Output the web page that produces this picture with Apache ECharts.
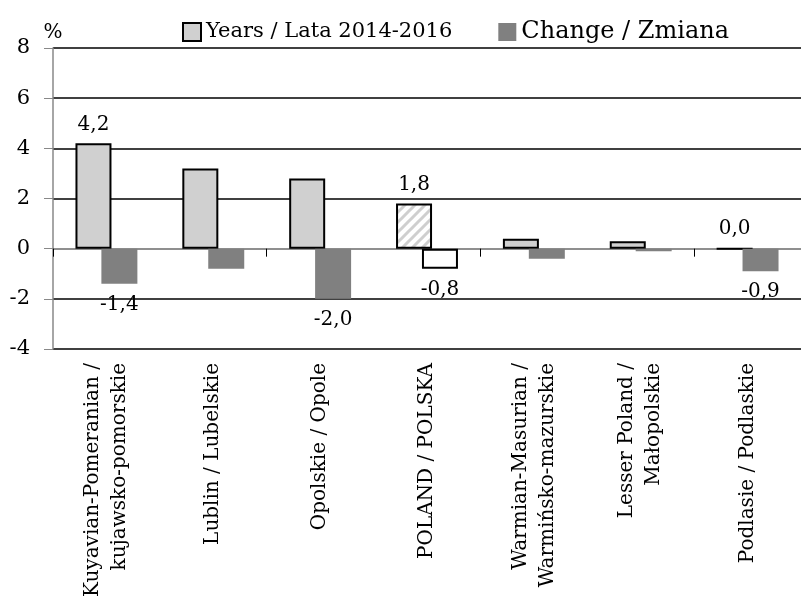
<!DOCTYPE html>
<html>
<head>
<meta charset="utf-8">
<script src="https://cdn.jsdelivr.net/npm/echarts@6/dist/echarts.min.js"></script>
<style>
  html, body { margin: 0; padding: 0; background: #fff; }
  #chart { width: 801px; height: 606px; }
</style>
</head>
<body>
<div id="chart"></div>
<script>
// dane wykresu
const categories = [
    'Kuyavian-Pomeranian /\nkujawsko-pomorskie',
    'Lublin / Lubelskie',
    'Opolskie / Opole',
    'POLAND / POLSKA',
    'Warmian-Masurian /\nWarmińsko-mazurskie',
    'Lesser Poland /\nMałopolskie',
    'Podlasie / Podlaskie'
];
const yearsValues = [4.2, 3.2, 2.8, 1.8, 0.4, 0.3, 0.0];
const changeValues = [-1.4, -0.8, -2.0, -0.8, -0.4, -0.1, -0.9];
const yearsLabelled = [0, 3, 6];
const changeLabelled = [0, 2, 3, 6];
const yTicks = [-4, -2, 0, 2, 4, 6, 8];
const seriesNames = ['Years / Lata 2014-2016', 'Change / Zmiana'];
const polandIndex = 3;

const FONT = 'DejaVu Serif';

// wzór ukośnych pasków dla słupka POLSKA
function makeHatch() {
    const c = document.createElement('canvas');
    c.width = 10; c.height = 10;
    const ctx = c.getContext('2d');
    ctx.fillStyle = '#fff';
    ctx.fillRect(0, 0, 10, 10);
    ctx.strokeStyle = '#cfcfcf';
    ctx.lineWidth = 3;
    ctx.beginPath();
    ctx.moveTo(-2, 12); ctx.lineTo(12, -2);
    ctx.moveTo(-2, 2); ctx.lineTo(2, -2);
    ctx.moveTo(8, 12); ctx.lineTo(12, 8);
    ctx.stroke();
    return c;
}

const fmt = p => p.value.toFixed(1).replace('.', ',');

const yearsData = yearsValues.map((v, i) => {
    const item = { value: v };
    if (yearsLabelled.includes(i)) item.label = { show: true };
    if (i === polandIndex) item.itemStyle = { color: { image: makeHatch(), repeat: 'repeat' } };
    return item;
});
const changeData = changeValues.map((v, i) => {
    const item = { value: v };
    if (changeLabelled.includes(i)) item.label = { show: true };
    if (i === polandIndex) item.itemStyle = { color: '#fff', borderColor: '#000', borderWidth: 2 };
    return item;
});

const chart = echarts.init(document.getElementById('chart'), null, { renderer: 'canvas' });
chart.setOption({
    animation: false,
    textStyle: { fontFamily: FONT, color: '#000' },
    legend: {
        left: 177,
        top: 15,
        icon: 'rect',
        itemWidth: 18,
        itemHeight: 18,
        itemGap: 46,
        textStyle: { fontFamily: FONT, color: '#000' },
        data: [
            { name: seriesNames[0], textStyle: { fontSize: 21 } },
            { name: seriesNames[1], textStyle: { fontSize: 24 } }
        ]
    },
    grid: { left: 53, right: -12, top: 48, bottom: 257, containLabel: false },
    xAxis: [
        {
            type: 'category',
            data: categories,
            axisLine: { onZero: true, lineStyle: { color: '#888', width: 1.5 } },
            axisTick: { show: true, length: 8, lineStyle: { color: '#000' } },
            axisLabel: { show: false },
            splitLine: { show: false }
        },
        {
            type: 'category',
            data: categories,
            position: 'bottom',
            axisLine: { show: false, onZero: false },
            axisTick: { show: false },
            axisLabel: {
                rotate: 90,
                interval: 0,
                margin: 14,
                fontFamily: FONT,
                fontSize: 20,
                lineHeight: 27,
                color: '#000'
            }
        }
    ],
    yAxis: {
        type: 'value',
        min: yTicks[0],
        max: yTicks[yTicks.length - 1],
        interval: 2,
        name: '%',
        nameLocation: 'end',
        nameGap: 5,
        nameTextStyle: { fontFamily: FONT, fontSize: 20, color: '#000', align: 'center' },
        axisLine: { show: true, lineStyle: { color: '#888', width: 1.5 } },
        axisTick: { show: true, length: 9, lineStyle: { color: '#888' } },
        axisLabel: {
            margin: 23,
            fontFamily: FONT,
            fontSize: 21,
            color: '#000',
            formatter: v => String(v)
        },
        splitLine: {
            show: true,
            lineStyle: {
                color: yTicks.map(v => (v === 0 ? '#888' : '#000')),
                width: 1.5
            }
        }
    },
    series: [
        {
            name: seriesNames[0],
            type: 'bar',
            xAxisIndex: 0,
            data: yearsData,
            barWidth: 36,
            barGap: '-28%',
            itemStyle: { color: '#d0d0d0', borderColor: '#000', borderWidth: 2 },
            label: {
                show: false,
                position: 'top',
                distance: 9,
                fontFamily: FONT,
                fontSize: 20,
                color: '#000',
                formatter: fmt
            }
        },
        {
            name: seriesNames[1],
            type: 'bar',
            xAxisIndex: 0,
            data: changeData,
            barWidth: 36,
            barGap: '-28%',
            itemStyle: { color: '#808080' },
            label: {
                show: false,
                position: 'bottom',
                distance: 11,
                fontFamily: FONT,
                fontSize: 20,
                color: '#000',
                formatter: fmt
            }
        }
    ]
});
</script>
</body>
</html>
